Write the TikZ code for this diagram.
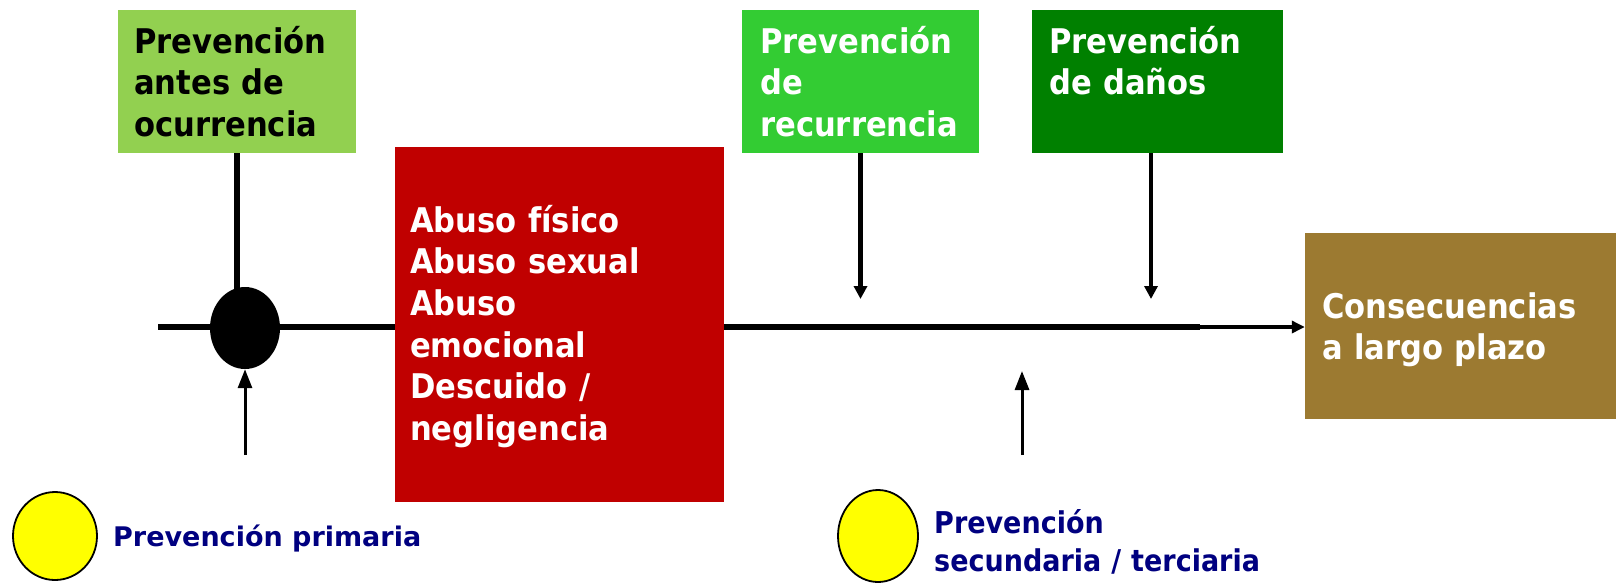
\documentclass[tikz,border=0pt]{standalone}
\usepackage{fontspec}
\newfontfamily\bxf[FakeStretch=0.9]{DejaVu Sans}
\newfontfamily\lbf{DejaVu Sans}
\usetikzlibrary{arrows.meta,backgrounds,shapes.geometric}
\definecolor{gA}{HTML}{92D050}
\definecolor{gB}{HTML}{33CC33}
\definecolor{gC}{HTML}{008000}
\definecolor{rd}{HTML}{C00000}
\definecolor{brn}{HTML}{9C7A31}
\definecolor{nvy}{HTML}{000080}
\definecolor{ylw}{HTML}{FFFF00}
\tikzset{
  box/.style={rectangle, inner sep=0pt, draw=none},
  boxtext/.style={inner sep=0pt, anchor=base west, align=left, text width=320pt,
    font={\bxf\bfseries\fontsize{34}{41.7}\selectfont}},
  thickline/.style={line width=5.5pt},
  downarrow/.style={line width=4.5pt, -{Triangle[length=13pt,width=13pt]}},
  uparrow/.style={line width=3pt, -{Triangle[length=19pt,width=14pt]}},
  yellowdot/.style={ellipse, fill=ylw, draw=black, line width=1.8pt, inner sep=0pt},
}
\begin{document}
\begin{tikzpicture}[x=1pt,y=-1pt]
\useasboundingbox (0,0) rectangle (1616,582);
% boxes
\node[box, fill=gA, minimum width=238pt, minimum height=143pt] (b1) at (237,81.5) {};
\node[box, fill=gB, minimum width=237pt, minimum height=143pt] (b2) at (860.5,81.5) {};
\node[box, fill=gC, minimum width=251pt, minimum height=143pt] (b3) at (1157.5,81.5) {};
\node[box, fill=rd, minimum width=329pt, minimum height=355pt] (red) at (559.5,324.5) {};
\node[box, fill=brn, minimum width=311pt, minimum height=186pt] (brown) at (1460.5,326) {};
% texts
\node[boxtext, text=black] (t1) at (134,53) {Prevención\\antes de\\ocurrencia};
\node[boxtext, text=white] (t2) at (760,53) {Prevención\\de\\recurrencia};
\node[boxtext, text=white] (t3) at (1049,53) {Prevención\\de daños};
\node[boxtext, text=white] (tr) at (410,232) {Abuso físico\\Abuso sexual\\Abuso\\emocional\\Descuido /\\negligencia};
\node[boxtext, text=white] (tb) at (1322,318) {Consecuencias\\a largo plazo};
% black dot
\node[ellipse, fill=black, inner sep=0pt, minimum width=70pt, minimum height=82pt] (dot) at (245,328) {};
% yellow legend dots
\node[yellowdot, minimum width=84pt, minimum height=88pt] (y1) at (55,536) {};
\node[yellowdot, minimum width=80pt, minimum height=92pt] (y2) at (878,536) {};
\node[inner sep=0pt, anchor=base west, text=nvy, font={\lbf\bfseries\fontsize{27}{32}\selectfont}] (l1) at (113,546) {Prevención primaria};
\node[inner sep=0pt, anchor=base west, align=left, text width=340pt, text=nvy,
  font={\bxf\bfseries\fontsize{30}{38}\selectfont}] (l2) at (934,533) {Prevención\\secundaria / terciaria};
% coordinates
\coordinate (L0) at (158,327);
\coordinate (u1) at (245,455);
\coordinate (d2) at (860.5,299);
\coordinate (d3) at (1151,299);
\coordinate (u2a) at (1022,455);
\coordinate (u2b) at (1022,371);
\coordinate (mj) at (1200,327);
% connectors
\begin{scope}[on background layer]
\draw[line width=6pt] (b1.south) -- (b1.south |- dot.center);
\draw[thickline] (L0) -- (red.west |- L0);
\end{scope}
\draw[uparrow] (u1) -- (dot.south);
\draw[thickline] (red.east |- L0) -- (mj);
\draw[line width=4pt, -{Triangle[length=13pt,width=12pt]}] (mj) -- (brown.west |- mj);
\draw[downarrow] (b2.south) -- (d2);
\draw[downarrow] (b3.south -| d3) -- (d3);
\draw[uparrow] (u2a) -- (u2b);
\end{tikzpicture}
\end{document}
